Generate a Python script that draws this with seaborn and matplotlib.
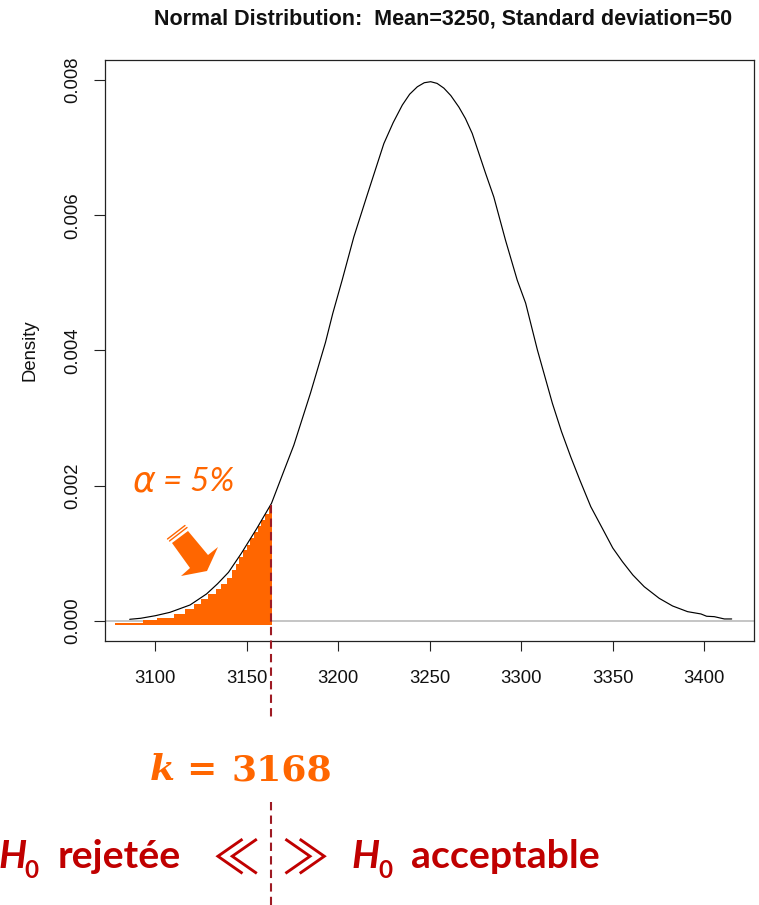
import matplotlib
matplotlib.use('Agg')
import matplotlib.pyplot as plt
from matplotlib.patches import Polygon
import seaborn as sns

W, H = 759, 905
ORANGE = '#FF6600'
RED = '#C00000'
DARKRED = '#9E1B24'

# curve (density in 1e-3)
curve_x = [3086, 3092, 3100, 3108, 3119, 3128, 3134, 3140, 3147, 3155.5, 3163.5, 3170, 3175.7, 3184.8, 3193, 3197,
           3202.1, 3208.5, 3215.8, 3224.9, 3230, 3235, 3239, 3243.2, 3247, 3250.5, 3254, 3257.7, 3261.5, 3265.9,
           3269.5, 3273.2, 3280.5, 3285, 3291.4, 3297.8, 3302.4, 3308.8, 3317, 3322, 3327, 3332, 3338, 3345.3,
           3350, 3355.3, 3361, 3367.2, 3375.4, 3382.7, 3390.9, 3398.2, 3401.3, 3405.5, 3411, 3415]
curve_y = [0.025, 0.04, 0.078, 0.128, 0.237, 0.40, 0.55, 0.72, 1.0, 1.37, 1.74, 2.20, 2.60, 3.37, 4.12, 4.55,
           5.04, 5.68, 6.30, 7.06, 7.37, 7.63, 7.79, 7.90, 7.96, 7.975, 7.95, 7.88, 7.77, 7.60,
           7.43, 7.21, 6.62, 6.27, 5.63, 5.04, 4.70, 4.01, 3.22, 2.80, 2.43, 2.085, 1.69, 1.32,
           1.08, 0.877, 0.68, 0.507, 0.335, 0.222, 0.138, 0.104, 0.07, 0.064, 0.03, 0.03]

# stair steps of the orange area (density in 1e-3)
fill_x = [3078, 3093, 3101, 3110, 3116, 3121, 3125, 3129, 3133, 3136, 3139, 3142, 3144, 3146, 3148, 3150,
          3152, 3154, 3156, 3158, 3160, 3162, 3163.5]
fill_y = [-0.03, 0.01, 0.05, 0.11, 0.17, 0.25, 0.32, 0.40, 0.48, 0.55, 0.63, 0.75, 0.85, 0.95, 1.05, 1.13,
          1.22, 1.31, 1.40, 1.49, 1.58, 1.68, 1.72]
fill_base = -0.06

x_ticks = [3100, 3150, 3200, 3250, 3300, 3350, 3400]
y_ticks = [0.000, 0.002, 0.004, 0.006, 0.008]
y_tick_labels = ['0.000', '0.002', '0.004', '0.006', '0.008']


def px(x, y):
    return x / W, 1 - y / H


def put(x, y, s, **kw):
    fx, fy = px(x, y)
    kw.setdefault('va', 'baseline')
    return fig.text(fx, fy, s, **kw)


sns.set_style('ticks')
plt.rcParams['font.family'] = ['Liberation Sans', 'DejaVu Sans']

fig = plt.figure(figsize=(W / 100, H / 100), dpi=100)
ax = fig.add_axes([105 / W, (H - 641) / H, 649 / W, 581 / H])

ax.axhline(0, color='#b5b5b5', lw=1.1, zorder=1)
ax.fill_between(fill_x, [v / 1000 for v in fill_y], fill_base / 1000, step='post', color=ORANGE, lw=0, zorder=2)
sns.lineplot(x=curve_x, y=[v / 1000 for v in curve_y], color='black', lw=0.85, errorbar=None, ax=ax, zorder=3)

ax.set_xlim(3072.5, 3427.2)
ax.set_ylim(-0.000296, 0.008296)
ax.set_xticks(x_ticks)
ax.set_yticks(y_ticks)
ax.set_yticklabels(y_tick_labels, rotation=90, va='center')
ax.tick_params(axis='x', length=7.5, width=0.8, color='#222222', labelsize=13.3, pad=13.5, labelcolor='#111111')
ax.tick_params(axis='y', length=8, width=0.8, color='#222222', labelsize=13.3, pad=9, labelcolor='#111111')
for sp in ax.spines.values():
    sp.set_visible(True)
    sp.set_linewidth(0.9)
    sp.set_color('#222222')
ax.set_xlabel('')
ax.set_ylabel('')

put(443, 24, 'Normal Distribution:  Mean=3250, Standard deviation=50', ha='center', fontsize=15.5, fontweight='bold',
    color='#111111')
put(30.5, 350, 'Density', ha='center', va='center', rotation=90, fontsize=13.3, color='#111111')

# dashed k line, in two parts
for y0, y1 in [(505, 721), (802, 905)]:
    fx, fy0 = px(271, y0)
    _, fy1 = px(271, y1)
    fig.add_artist(plt.Line2D([fx, fx], [fy0, fy1], color=DARKRED, lw=1.5, dashes=(4, 2.5), zorder=5))

# block arrow
arrow = [(172, 543), (188, 531), (208, 555), (218, 547), (207, 571), (181, 576), (190, 568)]
fig.add_artist(Polygon([px(*p) for p in arrow], closed=True, transform=fig.transFigure, color=ORANGE, lw=0))
for a, b in [((167.5, 539), (185, 525.5)), ((169.5, 541), (187, 527.5))]:
    fig.add_artist(plt.Line2D([px(*a)[0], px(*b)[0]], [px(*a)[1], px(*b)[1]], color=ORANGE, lw=1.0))

put(133, 491, 'α', fontsize=25, style='italic', color=ORANGE, family=['DejaVu Sans'])
put(163, 491, '= 5%', fontsize=24, style='italic', color=ORANGE, family=['Lato'])

# k = 3168
put(150, 780, 'k', fontsize=26, style='italic', fontweight='bold', color=ORANGE, family=['DejaVu Serif'])
put(186, 780, '=', fontsize=26, fontweight='bold', color=ORANGE, family=['DejaVu Serif'])
put(231, 780, '3168', fontsize=26, fontweight='bold', color=ORANGE, family=['DejaVu Serif'])

# H0 labels
put(-2, 868, 'H', fontsize=28.3, style='italic', fontweight='bold', color=RED, family=['Lato'])
put(24, 878, '0', fontsize=17.5, fontweight='bold', color=RED, family=['Lato'])
put(58, 868, 'rejetée', fontsize=28.3, fontweight='bold', color=RED, family=['Lato'])
put(236, 873, '≪', ha='center', fontsize=34, color=RED, family=['Noto Sans CJK SC'])
put(305, 873, '≫', ha='center', fontsize=34, color=RED, family=['Noto Sans CJK SC'])
put(351, 868, 'H', fontsize=28.3, style='italic', fontweight='bold', color=RED, family=['Lato'])
put(378, 878, '0', fontsize=17.5, fontweight='bold', color=RED, family=['Lato'])
put(411, 868, 'acceptable', fontsize=28.3, fontweight='bold', color=RED, family=['Lato'])

fig.savefig('out.png', dpi=100)
